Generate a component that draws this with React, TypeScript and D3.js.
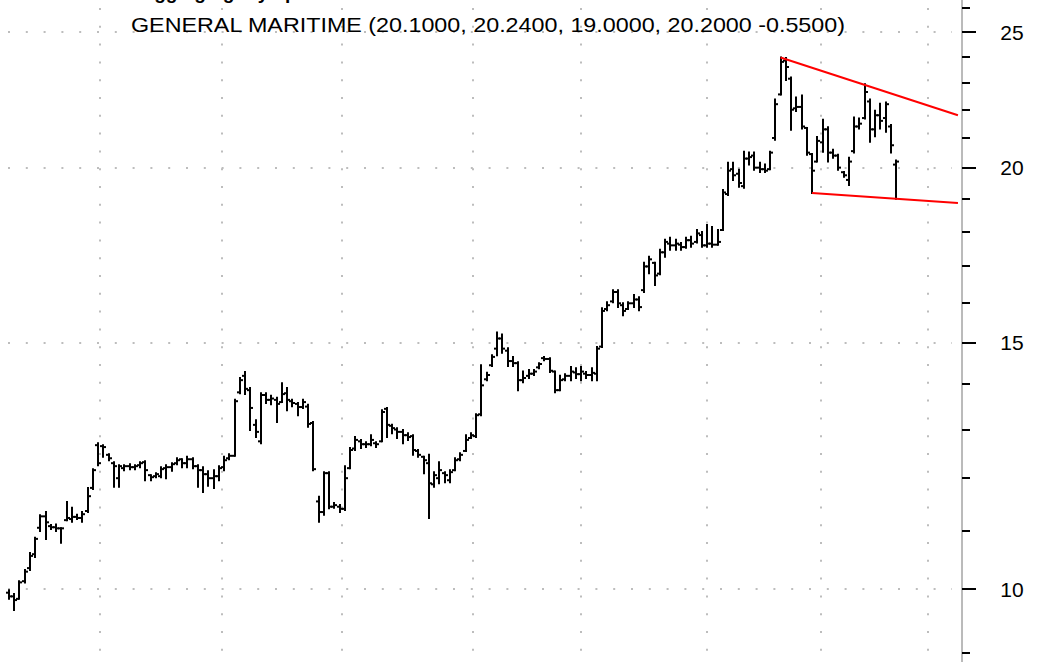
import React from 'react';
import * as d3 from 'd3';

// daily OHLC, oldest first
const opens = [
  9.94, 9.88, 9.84, 10.13, 10.35, 10.59, 11.06, 11.27, 11.09, 11.07,
  11.05, 11.2, 11.22, 11.26, 11.24, 11.37, 11.81, 12.67, 12.65, 12.47,
  12.3, 12.0, 12.2, 12.24, 12.22, 12.26, 12.32, 12.06, 12.04, 12.04,
  12.2, 12.22, 12.3, 12.38, 12.3, 12.38, 12.24, 12.16, 12.08, 12.0,
  12.04, 12.22, 12.4, 12.45, 13.82, 14.2, 13.87, 13.1, 12.75, 13.76,
  13.65, 13.65, 13.6, 13.8, 13.62, 13.56, 13.49, 13.5, 13.14, 11.55,
  11.35, 12.1, 11.45, 11.45, 11.41, 12.2, 12.6, 12.75, 12.69, 12.69,
  12.71, 12.75, 13.45, 13.08, 13.0, 12.95, 12.88, 12.86, 12.55, 12.43,
  12.3, 11.88, 12.0, 12.1, 11.96, 12.16, 12.38, 12.55, 12.82, 12.86,
  13.33, 14.12, 14.45, 14.85, 15.1, 14.8, 14.55, 14.5, 14.1, 14.2,
  14.25, 14.4, 14.62, 14.6, 14.3, 13.87, 14.12, 14.2, 14.28, 14.24,
  14.25, 14.22, 14.25, 14.9, 15.85, 16.05, 16.3, 15.95, 15.85, 16.0,
  16.1, 16.35, 17.0, 17.1, 16.8, 17.4, 17.65, 17.6, 17.62, 17.55,
  17.75, 17.7, 17.9, 17.6, 17.65, 17.62, 18.05, 19.15, 19.95, 19.8,
  19.4, 20.3, 20.4, 20.0, 19.95, 19.95, 21.0, 22.56, 23.85, 23.15,
  22.05, 22.1, 21.35, 20.45, 20.2, 20.85, 21.3, 20.5, 20.4, 19.85,
  19.6, 20.55, 21.4, 21.7, 22.3, 21.3, 21.8, 21.7, 21.4, 20.1,
];
const highs = [
  9.98, 9.92, 10.13, 10.32, 10.61, 10.88, 11.29, 11.35, 11.11, 11.12,
  11.05, 11.54, 11.43, 11.3, 11.35, 11.81, 12.18, 12.71, 12.67, 12.48,
  12.32, 12.26, 12.26, 12.28, 12.26, 12.32, 12.34, 12.06, 12.1, 12.22,
  12.26, 12.3, 12.4, 12.38, 12.43, 12.4, 12.26, 12.22, 12.14, 12.16,
  12.24, 12.43, 12.48, 13.65, 14.15, 14.29, 13.92, 13.2, 13.8, 13.8,
  13.74, 13.7, 14.03, 13.92, 13.65, 13.58, 13.65, 13.54, 13.16, 11.64,
  12.12, 12.12, 11.52, 11.48, 12.24, 12.61, 12.84, 12.78, 12.73, 12.88,
  12.73, 13.42, 13.47, 13.1, 13.03, 12.99, 12.92, 12.88, 12.57, 12.43,
  12.47, 12.12, 12.32, 12.12, 12.16, 12.4, 12.5, 12.88, 12.92, 13.33,
  14.45, 14.27, 14.69, 15.25, 15.2, 14.86, 14.65, 14.52, 14.3, 14.34,
  14.34, 14.5, 14.65, 14.62, 14.3, 14.2, 14.24, 14.41, 14.38, 14.41,
  14.29, 14.38, 14.89, 15.87, 16.03, 16.35, 16.35, 16.0, 16.03, 16.22,
  16.16, 17.1, 17.27, 17.1, 17.47, 17.76, 17.82, 17.76, 17.67, 17.82,
  17.85, 18.05, 17.99, 18.2, 18.14, 18.05, 19.28, 20.16, 20.16, 19.93,
  20.53, 20.5, 20.5, 20.16, 20.1, 20.53, 22.37, 23.97, 23.95, 23.2,
  22.45, 22.52, 21.35, 20.45, 21.03, 21.64, 21.37, 20.6, 20.43, 19.86,
  20.33, 21.72, 21.68, 22.94, 22.37, 21.96, 22.22, 22.26, 21.45, 20.24,
];
const lows = [
  9.84, 9.66, 9.84, 10.11, 10.32, 10.54, 11.0, 10.86, 11.04, 11.0,
  10.79, 11.2, 11.17, 11.22, 11.17, 11.35, 11.79, 12.26, 12.43, 12.36,
  11.83, 11.83, 12.16, 12.18, 12.18, 12.22, 11.96, 11.96, 12.02, 12.02,
  12.0, 12.15, 12.28, 12.22, 12.22, 12.2, 11.83, 11.73, 11.85, 11.81,
  11.96, 12.16, 12.38, 12.45, 13.8, 13.78, 12.99, 12.84, 12.71, 13.58,
  13.55, 13.16, 13.6, 13.42, 13.51, 13.31, 13.47, 13.06, 12.16, 11.17,
  11.3, 11.42, 11.43, 11.35, 11.39, 12.2, 12.57, 12.61, 12.63, 12.67,
  12.63, 12.75, 12.84, 12.92, 12.82, 12.71, 12.78, 12.47, 12.43, 12.1,
  11.24, 11.83, 11.9, 11.92, 11.92, 12.16, 12.36, 12.55, 12.82, 12.84,
  13.31, 14.1, 14.43, 14.69, 14.75, 14.43, 14.43, 13.87, 14.05, 14.15,
  14.22, 14.38, 14.57, 14.29, 13.82, 13.87, 14.1, 14.1, 14.15, 14.1,
  14.15, 14.1, 14.1, 14.89, 15.82, 16.03, 15.9, 15.69, 15.85, 15.9,
  15.82, 16.3, 16.81, 16.49, 16.78, 17.27, 17.47, 17.47, 17.47, 17.53,
  17.56, 17.68, 17.56, 17.56, 17.56, 17.62, 18.05, 19.12, 19.6, 19.38,
  19.35, 20.1, 19.93, 19.86, 19.86, 19.95, 20.94, 22.56, 23.1, 21.29,
  21.95, 21.33, 20.43, 19.18, 20.2, 20.53, 20.2, 20.33, 19.93, 19.7,
  19.44, 20.5, 21.33, 21.68, 20.87, 21.06, 21.33, 21.22, 20.5, 19.0,
];
const closes = [
  9.88, 9.82, 10.11, 10.29, 10.56, 10.86, 11.27, 11.16, 11.07, 11.05,
  11.05, 11.24, 11.26, 11.24, 11.31, 11.65, 12.16, 12.3, 12.63, 12.4,
  12.24, 12.24, 12.24, 12.22, 12.24, 12.3, 12.16, 12.02, 12.08, 12.18,
  12.22, 12.28, 12.36, 12.3, 12.38, 12.24, 12.16, 12.08, 12.0, 12.04,
  12.2, 12.36, 12.45, 13.62, 14.1, 13.9, 13.47, 12.95, 13.76, 13.65,
  13.68, 13.56, 13.78, 13.65, 13.58, 13.49, 13.6, 13.12, 12.18, 11.35,
  12.1, 11.45, 11.48, 11.41, 12.0, 12.57, 12.78, 12.69, 12.69, 12.78,
  12.69, 13.38, 13.1, 13.03, 12.95, 12.88, 12.84, 12.57, 12.47, 12.36,
  11.9, 12.06, 12.16, 12.06, 12.12, 12.36, 12.47, 12.78, 12.88, 13.31,
  13.98, 14.22, 14.65, 15.1, 14.85, 14.55, 14.5, 14.1, 14.15, 14.25,
  14.3, 14.48, 14.6, 14.32, 13.87, 14.1, 14.2, 14.3, 14.24, 14.3,
  14.22, 14.27, 14.85, 15.8, 15.95, 16.3, 16.0, 15.8, 16.0, 16.1,
  15.9, 17.0, 17.2, 16.75, 17.4, 17.7, 17.6, 17.65, 17.55, 17.75,
  17.65, 17.95, 17.6, 17.65, 17.62, 17.7, 19.2, 19.9, 19.75, 19.5,
  20.3, 20.35, 20.0, 19.95, 19.9, 20.5, 22.2, 23.8, 23.6, 22.0,
  22.1, 21.4, 20.5, 19.9, 20.9, 21.3, 20.5, 20.4, 20.0, 19.75,
  20.2, 21.4, 21.5, 22.65, 21.3, 21.8, 21.6, 22.2, 20.75, 20.2,
];

// bar index where each month starts (vertical grid)
const monthStarts = [17.3, 40.6, 63.4, 88.4, 109, 133, 154.7, 175.1];
const majorTicks = [10, 15, 20, 25];
const minorTicks = [9, 11, 12, 13, 14, 16, 17, 18, 19, 21, 22, 23, 24, 26];

// trendlines: [bar index, price]
const upperTrend: [number, number][] = [[147, 23.97], [180.8, 21.8]];
const lowerTrend: [number, number][] = [[153, 19.18], [180.8, 18.87]];

const title = 'GENERAL MARITIME (20.1000, 20.2400, 19.0000, 20.2000 -0.5500)';
const heading = 'Sagging tightly upward';

const W = 1061;
const H = 662;
const font = '"Liberation Sans", Arial, sans-serif';

export default function App() {
  const x = d3.scaleLinear().domain([0, closes.length - 1]).range([9, 896]);
  const y = d3.scaleLog().domain([8.869, 26.35]).range([H, 0]);
  const axisX = 962;
  const trend = d3.line<[number, number]>().x(d => x(d[0])).y(d => y(d[1]));

  return (
    <div style={{ position: 'fixed', left: 0, top: 0 }}>
      <svg width={W} height={H} style={{ display: 'block', background: '#fff' }}>
        {/* grid */}
        <g stroke="#bdbdbd" strokeWidth={2} strokeDasharray="2 15.8">
          {majorTicks.map(t => (
            <line key={'h' + t} x1={8} x2={952} y1={Math.round(y(t))} y2={Math.round(y(t))} />
          ))}
          {monthStarts.map(m => (
            <line key={'v' + m} x1={Math.round(x(m))} x2={Math.round(x(m))} y1={8} y2={H} />
          ))}
        </g>

        {/* bars */}
        <g stroke="#000" strokeWidth={2} fill="none">
          {closes.map((c, i) => {
            const cx = Math.round(x(i));
            return (
              <g key={i}>
                <line x1={cx} x2={cx} y1={y(highs[i]) - 1} y2={y(lows[i]) + 1} />
                <line x1={cx - 3} x2={cx} y1={y(opens[i])} y2={y(opens[i])} />
                <line x1={cx} x2={cx + 3} y1={y(c)} y2={y(c)} />
              </g>
            );
          })}
        </g>

        {/* trendlines */}
        <g stroke="#ff0000" strokeWidth={2} fill="none">
          <path d={trend(upperTrend) || ''} />
          <path d={trend(lowerTrend) || ''} />
        </g>

        {/* right axis */}
        <line x1={axisX} x2={axisX} y1={0} y2={H} stroke="#777" strokeWidth={1} />
        <g stroke="#000" strokeWidth={2}>
          {minorTicks.map(t => (
            <line key={'m' + t} x1={axisX} x2={axisX + 8} y1={Math.round(y(t))} y2={Math.round(y(t))} />
          ))}
          {majorTicks.map(t => (
            <line key={'M' + t} x1={axisX} x2={axisX + 14} y1={Math.round(y(t))} y2={Math.round(y(t))} />
          ))}
        </g>
        <g fontFamily={font} fontSize={21} fill="#000" textAnchor="middle">
          {majorTicks.map(t => (
            <text key={'l' + t} x={1012} y={y(t)} dy="0.36em">{t}</text>
          ))}
        </g>

        {/* titles */}
        <text x={131} y={-1} fontFamily={font} fontSize={19} fontWeight="bold" fill="#000">{heading}</text>
        <text x={131} y={32} fontFamily={font} fontSize={21} fill="#000" textLength={714} lengthAdjust="spacingAndGlyphs">{title}</text>
      </svg>
    </div>
  );
}
